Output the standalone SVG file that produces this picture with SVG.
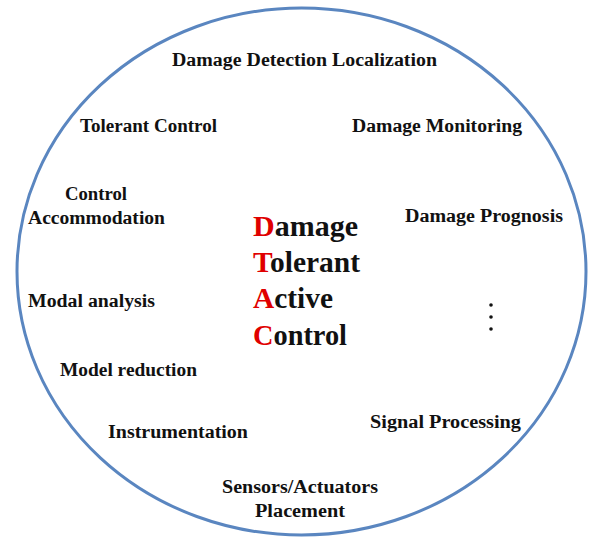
<svg xmlns="http://www.w3.org/2000/svg" width="591" height="538" viewBox="0 0 591 538">
<style>
.lbl{font-family:"Liberation Serif","Times New Roman",serif;font-weight:bold;font-size:18.5px;fill:#111}
.big{font-family:"Liberation Serif","Times New Roman",serif;font-weight:bold;font-size:29px;fill:#111}
.red{fill:#e00000}
</style>
<rect width="591" height="538" fill="#ffffff"/>
<g id="circle">
<ellipse cx="301.5" cy="271.5" rx="284.5" ry="263.5" fill="none" stroke="#5a86c0" stroke-width="3"/>
</g>
<g id="title">
<text class="big" x="253" y="236" textLength="105" lengthAdjust="spacingAndGlyphs"><tspan class="red">D</tspan>amage</text>
<text class="big" x="253" y="272" textLength="107" lengthAdjust="spacingAndGlyphs"><tspan class="red">T</tspan>olerant</text>
<text class="big" x="253" y="308" textLength="80" lengthAdjust="spacingAndGlyphs"><tspan class="red">A</tspan>ctive</text>
<text class="big" x="253" y="345" textLength="94" lengthAdjust="spacingAndGlyphs"><tspan class="red">C</tspan>ontrol</text>
</g>
<g id="n-ddl"><text class="lbl" x="172" y="66" textLength="265" lengthAdjust="spacingAndGlyphs">Damage Detection Localization</text></g>
<g id="n-tc"><text class="lbl" x="80" y="132" textLength="137" lengthAdjust="spacingAndGlyphs">Tolerant Control</text></g>
<g id="n-dm"><text class="lbl" x="352" y="132" textLength="170" lengthAdjust="spacingAndGlyphs">Damage Monitoring</text></g>
<g id="n-ca">
<text class="lbl" x="65" y="200" textLength="62" lengthAdjust="spacingAndGlyphs">Control</text>
<text class="lbl" x="28" y="224" textLength="137" lengthAdjust="spacingAndGlyphs">Accommodation</text>
</g>
<g id="n-dp"><text class="lbl" x="405" y="222" textLength="158" lengthAdjust="spacingAndGlyphs">Damage Prognosis</text></g>
<g id="n-ma"><text class="lbl" x="28" y="307" textLength="127" lengthAdjust="spacingAndGlyphs">Modal analysis</text></g>
<g id="n-dots">
<circle cx="491" cy="305" r="1.8" fill="#111"/>
<circle cx="491" cy="317" r="1.8" fill="#111"/>
<circle cx="491" cy="329" r="1.8" fill="#111"/>
</g>
<g id="n-mr"><text class="lbl" x="60" y="376" textLength="137" lengthAdjust="spacingAndGlyphs">Model reduction</text></g>
<g id="n-in"><text class="lbl" x="108" y="438" textLength="140" lengthAdjust="spacingAndGlyphs">Instrumentation</text></g>
<g id="n-sp"><text class="lbl" x="370" y="428" textLength="151" lengthAdjust="spacingAndGlyphs">Signal Processing</text></g>
<g id="n-sap">
<text class="lbl" x="222" y="493" textLength="156" lengthAdjust="spacingAndGlyphs">Sensors/Actuators</text>
<text class="lbl" x="255" y="517" textLength="90" lengthAdjust="spacingAndGlyphs">Placement</text>
</g>
</svg>
